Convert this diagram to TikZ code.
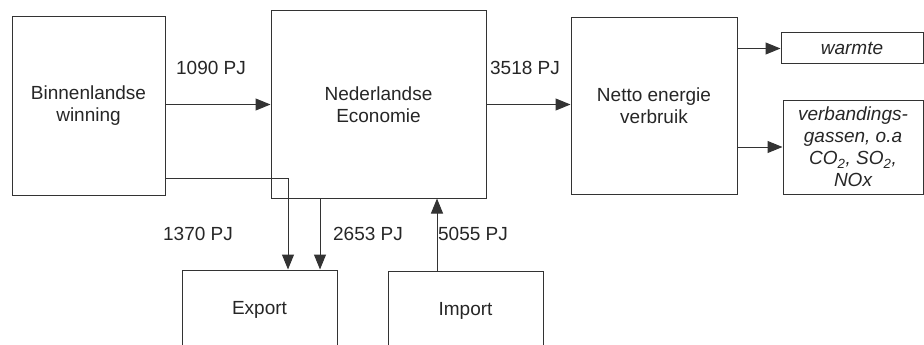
\documentclass[tikz,border=0pt]{standalone}
\usepackage{fontspec}
\setmainfont{Liberation Sans}
\usetikzlibrary{arrows.meta}

\begin{document}
\begin{tikzpicture}[
  x=1pt, y=-1pt,
  >={Triangle[length=15pt,width=12pt]},
  every node/.style={font=\fontsize{19}{22}\selectfont, text=black!85},
  box/.style={draw=black!80, line width=1pt, align=center, inner sep=0pt},
  flow/.style={->, draw=black!80, line width=1pt}
]
  \clip (0,0) rectangle (924,345);

  \node[box, minimum width=153pt, minimum height=178pt] (winning)  at (88.5,106)  {Binnenlandse\\winning};
  \node[box, minimum width=215pt, minimum height=187pt] (economie) at (378.5,104.5) {Nederlandse\\Economie};
  \node[box, minimum width=166pt, minimum height=176pt] (netto)    at (654,106)   {Netto energie\\verbruik};
  \node[box, minimum width=142pt, minimum height=31pt]  (warmte)   at (852,48.5)  {\itshape warmte};
  \node[box, minimum width=140pt, minimum height=94pt]  (gassen)   at (853,147)
    {\itshape verbandings-\\\itshape gassen, o.a\\\itshape CO\textsubscript{2}, SO\textsubscript{2},\\\itshape NOx};
  \node[box, minimum width=155pt, minimum height=80pt]  (export)   at (259.5,310) {Export};
  \node[box, minimum width=155pt, minimum height=80pt]  (import)   at (465.5,311) {Import};

  % main chain
  \draw[flow] (winning.east |- economie.west) -- (economie.west);
  \draw[flow] (economie.east) -- (economie.east -| netto.west);
  \draw[flow] (netto.east |- warmte.west) -- (warmte.west);
  \draw[flow] (netto.east |- gassen.west) -- (gassen.west);

  % export and import
  \draw[flow] ([yshift=-72pt]winning.east) -| ([xshift=28.5pt]export.north);
  \draw[flow] ([xshift=60.5pt]export.north |- economie.south) -- ([xshift=60.5pt]export.north);
  \draw[flow] ([xshift=-28.5pt]import.north) -- ([xshift=-28.5pt]import.north |- economie.south);

  \node (pj1090) at (211,68)  {1090 PJ};
  \node (pj3518) at (525,68)  {3518 PJ};
  \node (pj1370) at (198,234) {1370 PJ};
  \node (pj2653) at (368,234) {2653 PJ};
  \node (pj5055) at (473,234) {5055 PJ};
\end{tikzpicture}
\end{document}
